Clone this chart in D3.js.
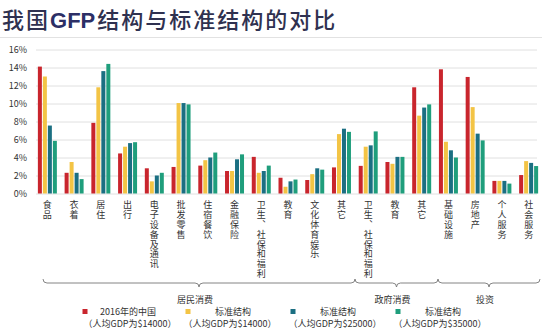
<!DOCTYPE html>
<html><head><meta charset="utf-8">
<script src="https://cdn.jsdelivr.net/npm/d3@7"></script>
<style>
html,body{margin:0;padding:0;background:#fff;}
svg{display:block;}
text{font-family:"Noto Sans CJK SC","Noto Sans",sans-serif;}
</style></head>
<body><svg id="c" width="542" height="332"></svg>
<script>
const titleParts = ["我国","GFP","结构与标准结构的对比"];
const categories = ["食品","衣着","居住","出行","电子设备及通讯","批发零售","住宿餐饮","金融保险","卫生、社保和福利","教育","文化体育娱乐","其它","卫生、社保和福利","教育","其它","基础设施","房地产","个人服务","社会服务"];
const seriesNames = ["2016年的中国","标准结构","标准结构","标准结构"];
const seriesSub = ["（人均GDP为$14000）","（人均GDP为$14000）","（人均GDP为$25000）","（人均GDP为$35000）"];
const china2016 = [14.1,2.3,7.85,4.45,2.8,2.95,3.1,2.5,4.07,1.75,1.5,2.9,3.07,3.5,11.8,13.8,12.95,1.4,2.05];
const std14000 = [13.0,3.5,11.8,5.2,1.35,10.05,3.7,2.5,2.3,0.75,2.15,6.6,5.2,3.3,8.65,5.75,9.6,1.4,3.6];
const std25000 = [7.55,2.3,13.6,5.6,2.0,10.05,4.0,3.8,2.5,1.35,2.8,7.2,5.35,4.07,9.55,4.8,6.65,1.4,3.4];
const std35000 = [5.85,1.6,14.4,5.7,2.3,9.9,4.55,4.35,3.1,1.55,2.65,6.85,6.9,4.07,9.9,4.0,5.9,1.1,3.05];
const yTicks = [0,2,4,6,8,10,12,14,16];
const groups = [
  {name:"居民消费", from:0, to:11},
  {name:"政府消费", from:12, to:14},
  {name:"投资", from:15, to:18}
];
const colors = ["#c9252d","#f3c445","#1b6f82","#1f9e7c"];
const series = [china2016, std14000, std25000, std35000];

const svg = d3.select("#c");
// title
const tt = svg.append("text").attr("x",2).attr("y",28)
  .attr("font-size",22).attr("font-weight",500).attr("fill","#2f3150");
tt.append("tspan").attr("letter-spacing",2).text(titleParts[0]);
tt.append("tspan").attr("letter-spacing",0).attr("font-weight",700)
  .attr("font-family","'Liberation Sans',Arial,sans-serif").attr("fill","#2c2f66").text(titleParts[1]);
tt.append("tspan").attr("letter-spacing",2).attr("dx",2).text(titleParts[2]);
svg.append("line").attr("x1",0).attr("x2",542).attr("y1",37.5).attr("y2",37.5)
  .attr("stroke","#e2e2e2").attr("stroke-width",1);

const x = d3.scaleBand().domain(d3.range(categories.length)).range([34,542])
  .paddingInner(0.29).paddingOuter(0.145);
const xi = d3.scaleBand().domain(d3.range(4)).range([0,x.bandwidth()]).paddingInner(0.2);
const y = d3.scaleLinear().domain([0,16]).range([193.5,49.5]);

// grid
const yAxis = d3.axisLeft(y).tickValues(yTicks).tickFormat(d=>d+"%").tickSize(-501).tickPadding(9);
const ga = svg.append("g").attr("transform","translate(36,0)").call(yAxis);
ga.select(".domain").remove();
ga.selectAll(".tick line").attr("stroke","#e0e0e0");
ga.selectAll(".tick text").attr("font-size",9).attr("fill","#333")
  .attr("font-family","'Liberation Sans',Arial,sans-serif");

// bars
const gg = svg.append("g").selectAll("g").data(categories).join("g")
  .attr("transform",(d,i)=>`translate(${x(i)},0)`);
gg.selectAll("rect").data((d,i)=>series.map((s,k)=>({k,v:s[i]}))).join("rect")
  .attr("x",d=>xi(d.k)).attr("width",xi.bandwidth())
  .attr("y",d=>y(d.v)).attr("height",d=>y(0)-y(d.v))
  .attr("fill",d=>colors[d.k]);

// x labels vertical
svg.append("g").selectAll("text").data(categories).join("text")
  .attr("x",(d,i)=>x(i)+x.bandwidth()/2).attr("y",200)
  .attr("writing-mode","vertical-rl")
  .style("writing-mode","vertical-rl")
  .attr("font-size",9).attr("letter-spacing",0.9).attr("fill","#333")
  .text(d=>d);

// braces
function brace(x1,x2,yy,h){
  const m=(x1+x2)/2;
  return `M${x1},${yy-h} Q${x1},${yy} ${x1+h},${yy} L${m-h},${yy} Q${m},${yy} ${m},${yy+h} Q${m},${yy} ${m+h},${yy} L${x2-h},${yy} Q${x2},${yy} ${x2},${yy-h}`;
}
const bx = [[43,355],[355,438],[438,540]];
groups.forEach((g,i)=>{
  svg.append("path").attr("d",brace(bx[i][0],bx[i][1],283,4))
    .attr("fill","none").attr("stroke","#777").attr("stroke-width",0.9);
  svg.append("text").attr("x",(bx[i][0]+bx[i][1])/2-4).attr("y",303)
    .attr("font-size",9).attr("fill","#333").attr("text-anchor","middle").text(g.name);
});

// legend
const lx = [85,188,293,398];
seriesNames.forEach((n,k)=>{
  svg.append("rect").attr("x",lx[k]-2.5).attr("y",309).attr("width",5).attr("height",5).attr("fill",colors[k]);
  svg.append("text").attr("x",lx[k]+(k===0?43:45)).attr("y",315).attr("font-size",9).attr("fill","#333")
    .attr("text-anchor","middle").text(n);
  svg.append("text").attr("x",lx[k]+(k===0?45:42)).attr("y",327).attr("font-size",9).attr("fill","#333")
    .attr("text-anchor","middle").text(seriesSub[k]);
});
</script></body></html>
